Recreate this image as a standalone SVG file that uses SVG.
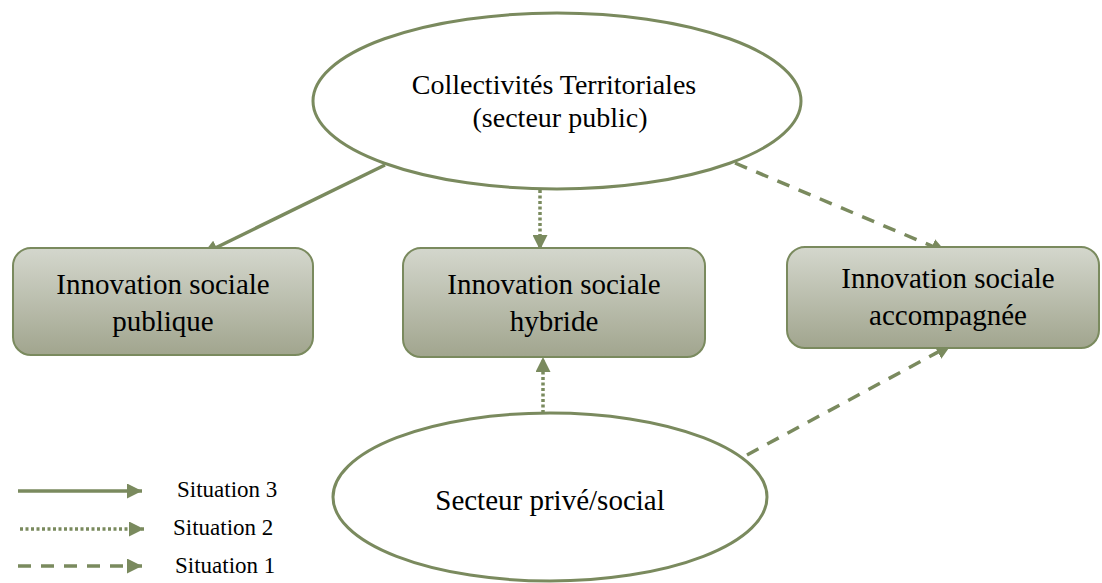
<svg xmlns="http://www.w3.org/2000/svg" width="1102" height="583" viewBox="0 0 1102 583">
<defs>
<linearGradient id="boxg" x1="0" y1="0" x2="0" y2="1">
<stop offset="0" stop-color="#D4D7CD"/>
<stop offset="1" stop-color="#A1A58E"/>
</linearGradient>
<marker id="ah" viewBox="0 0 10 10" refX="10" refY="5" markerWidth="15" markerHeight="15" markerUnits="userSpaceOnUse" orient="auto">
<path d="M0,0 L10,5 L0,10 z" fill="#7A8A5E"/>
</marker>
</defs>
<style>
.ell{fill:#FFFFFF;stroke:#7A8A5E;stroke-width:3}
.box{fill:url(#boxg);stroke:#7A8A5E;stroke-width:2}
.lbl{font-family:"Liberation Serif","Times New Roman",serif;font-size:29px;fill:#000;text-anchor:middle}
.leg{font-family:"Liberation Serif","Times New Roman",serif;font-size:23px;fill:#000}
.c{fill:none;stroke:#7A8A5E;stroke-width:3.5;marker-end:url(#ah)}
.solid{}
.dot{stroke-dasharray:3 2.5}
.dash{stroke-dasharray:13 10}
</style>
<g id="connectors">
<line class="c solid" x1="385" y1="165" x2="203" y2="254"/>
<line class="c dot" x1="540" y1="190" x2="540" y2="250"/>
<line class="c dash" x1="735" y1="163" x2="946" y2="252"/>
<line class="c dot" x1="543" y1="413" x2="543" y2="357"/>
<line class="c dash" x1="747" y1="455" x2="951" y2="345"/>
</g>
<g id="top">
<ellipse class="ell" cx="557" cy="101" rx="244" ry="88"/>
<text class="lbl" x="554" y="94" style="font-size:28px">Collectivités Territoriales</text>
<text class="lbl" x="560" y="127" style="font-size:28px">(secteur public)</text>
</g>
<g id="box1">
<rect class="box" x="13" y="248" width="300" height="107" rx="18"/>
<text class="lbl" x="163" y="294">Innovation sociale</text>
<text class="lbl" x="163" y="331">publique</text>
</g>
<g id="box2">
<rect class="box" x="403" y="248" width="302" height="109" rx="18"/>
<text class="lbl" x="554" y="294">Innovation sociale</text>
<text class="lbl" x="554" y="331">hybride</text>
</g>
<g id="box3">
<rect class="box" x="787" y="247" width="312" height="101" rx="18"/>
<text class="lbl" x="948" y="288">Innovation sociale</text>
<text class="lbl" x="948" y="325">accompagnée</text>
</g>
<g id="bottom">
<ellipse class="ell" cx="550" cy="497" rx="217" ry="84"/>
<text class="lbl" x="550" y="510">Secteur privé/social</text>
</g>
<g id="legend">
<line class="c solid" x1="18" y1="491" x2="142" y2="491"/>
<line class="c dot" x1="20" y1="529" x2="144" y2="529"/>
<line class="c dash" x1="18" y1="566" x2="142" y2="566"/>
<text class="leg" x="177" y="497">Situation 3</text>
<text class="leg" x="173" y="535">Situation 2</text>
<text class="leg" x="175" y="573">Situation 1</text>
</g>
</svg>
